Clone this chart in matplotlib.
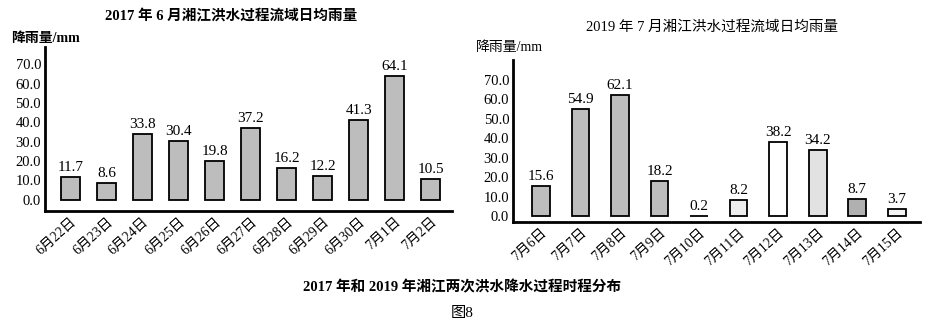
import numpy as np
import matplotlib
matplotlib.use("Agg")
from matplotlib import pyplot as plt

plt.rcParams['font.family'] = ['Liberation Serif', 'Noto Sans CJK SC']

# 2017 flood
days17 = ['6月22日', '6月23日', '6月24日', '6月25日', '6月26日', '6月27日',
          '6月28日', '6月29日', '6月30日', '7月1日', '7月2日']
rain17 = [11.7, 8.6, 33.8, 30.4, 19.8, 37.2, 16.2, 12.2, 41.3, 64.1, 10.5]

# 2019 flood
days19 = ['7月6日', '7月7日', '7月8日', '7月9日', '7月10日', '7月11日',
          '7月12日', '7月13日', '7月14日', '7月15日']
rain19 = [15.6, 54.9, 62.1, 18.2, 0.2, 8.2, 38.2, 34.2, 8.7, 3.7]
colors19 = ['#bdbdbd', '#bdbdbd', '#bdbdbd', '#bdbdbd', '#bdbdbd', '#eeeeee',
            '#ffffff', '#e2e2e2', '#b0b0b0', '#f4f4f4']

yticks = [0, 10, 20, 30, 40, 50, 60, 70]

fig = plt.figure(figsize=(9.25, 3.2), dpi=100)
ax1 = fig.add_axes([0.049, 0.34, 0.44, 0.513])
ax2 = fig.add_axes([0.555, 0.306, 0.44, 0.506])


def draw(ax, days, rain, colors, width, ylim):
    x = np.arange(len(days))
    bars = ax.bar(x, rain, width=width, color=colors, edgecolor='black', linewidth=1.3)
    for b, v in zip(bars, rain):
        ax.text(b.get_x() + b.get_width() / 2, v + 1.5, f'{v:.1f}',
                ha='center', va='bottom', fontsize=11)
    ax.set_ylim(*ylim)
    ax.set_xlim(-0.7, len(days) - 0.4)
    ax.set_yticks(yticks)
    ax.set_yticklabels([f'{t:.1f}' for t in yticks], fontsize=10.5)
    ax.set_xticks(x)
    ax.set_xticklabels(days, rotation=42, ha='right', rotation_mode='anchor',
                       fontsize=10, fontweight='medium')
    ax.tick_params(length=0, pad=3)
    for s in ['top', 'right']:
        ax.spines[s].set_visible(False)
    for s in ['left', 'bottom']:
        ax.spines[s].set_linewidth(2)


draw(ax1, days17, rain17, '#bdbdbd', 0.52, (-6, 79))
draw(ax2, days19, rain19, colors19, 0.45, (-3, 80))

fig.text(0.25, 0.935, '2017 年 6 月湘江洪水过程流域日均雨量', ha='center',
         fontsize=10.5, fontweight='bold')
fig.text(0.77, 0.905, '2019 年 7 月湘江洪水过程流域日均雨量', ha='center',
         fontsize=10.5, fontweight='medium')
fig.text(0.012, 0.87, '降雨量/mm', ha='left', fontsize=10, fontweight='bold')
fig.text(0.515, 0.84, '降雨量/mm', ha='left', fontsize=10, fontweight='medium')
fig.text(0.5, 0.09, '2017 年和 2019 年湘江两次洪水降水过程时程分布', ha='center',
         fontsize=10.5, fontweight='bold')
fig.text(0.5, 0.01, '图8', ha='center', fontsize=11)

fig.savefig('out.png', dpi=100)
